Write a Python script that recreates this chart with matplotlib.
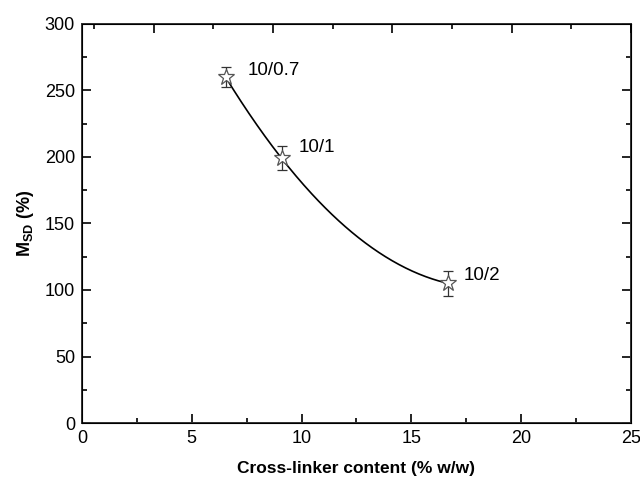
import numpy as np
import matplotlib
matplotlib.use("Agg")
import matplotlib.pyplot as plt
from matplotlib.ticker import MultipleLocator

# cross-linker content (% w/w) and swelling degree M_SD (%)
crosslinker = [6.54, 9.09, 16.67]
msd = [260, 199, 105]
msd_err = [7.5, 9, 9.5]
labels = ["10/0.7", "10/1", "10/2"]
label_offsets = [(22, 7), (17, 11), (16, 8)]

plt.rcParams['font.family'] = ['Liberation Sans', 'DejaVu Sans']
plt.rcParams['mathtext.fontset'] = 'custom'
plt.rcParams['mathtext.rm'] = 'Liberation Sans'
plt.rcParams['mathtext.bf'] = 'Liberation Sans:bold'

fig = plt.figure(figsize=(6.4, 4.78), dpi=100)
ax = fig.add_axes([0.128, 0.115, 0.858, 0.835])

# smooth fitted curve through the points
coef = np.polyfit(crosslinker, msd, 2)
xs = np.linspace(min(crosslinker), max(crosslinker), 200)
ax.plot(xs, np.polyval(coef, xs), color='black', lw=1.2, zorder=2)

ax.errorbar(crosslinker, msd, yerr=msd_err, fmt='none', ecolor='#333333',
            elinewidth=0.9, capsize=3.5, capthick=0.9, zorder=3)
ax.plot(crosslinker, msd, ls='none', marker='*', ms=12, mfc='white',
        mec='#555555', mew=0.9, zorder=4)

for x, y, lab, off in zip(crosslinker, msd, labels, label_offsets):
    ax.annotate(lab, (x, y), xytext=off, textcoords='offset pixels',
                fontsize=13.5, va='center', ha='left')

ax.set_xlim(0, 25)
ax.set_ylim(0, 300)
ax.xaxis.set_major_locator(MultipleLocator(5))
ax.xaxis.set_minor_locator(MultipleLocator(2.5))
ax.yaxis.set_major_locator(MultipleLocator(50))
ax.yaxis.set_minor_locator(MultipleLocator(25))
ax.tick_params(which='both', direction='in', right=True, width=1.2,
               labelsize=13, pad=5)
ax.tick_params(which='major', length=6.5)
ax.tick_params(which='minor', length=3.5)
for sp in ax.spines.values():
    sp.set_linewidth(1.4)
    sp.set_color('#333333')

# top axis from the original plot is offset (starts at 2)
top = ax.twiny()
top.set_xlim(2, 25)
top.xaxis.set_major_locator(MultipleLocator(5))
top.xaxis.set_minor_locator(MultipleLocator(2.5))
top.tick_params(which='both', direction='in', labeltop=False, width=1.2)
top.tick_params(which='major', length=6.5)
top.tick_params(which='minor', length=3.5)

ax.set_xlabel("Cross-linker content (% w/w)", fontsize=12.5, fontweight='bold',
              labelpad=10)
ax.set_ylabel(r"$\mathbf{M_{SD}}$ (%)", fontsize=13, fontweight='bold',
              labelpad=6)

fig.savefig("out.png", dpi=100)
